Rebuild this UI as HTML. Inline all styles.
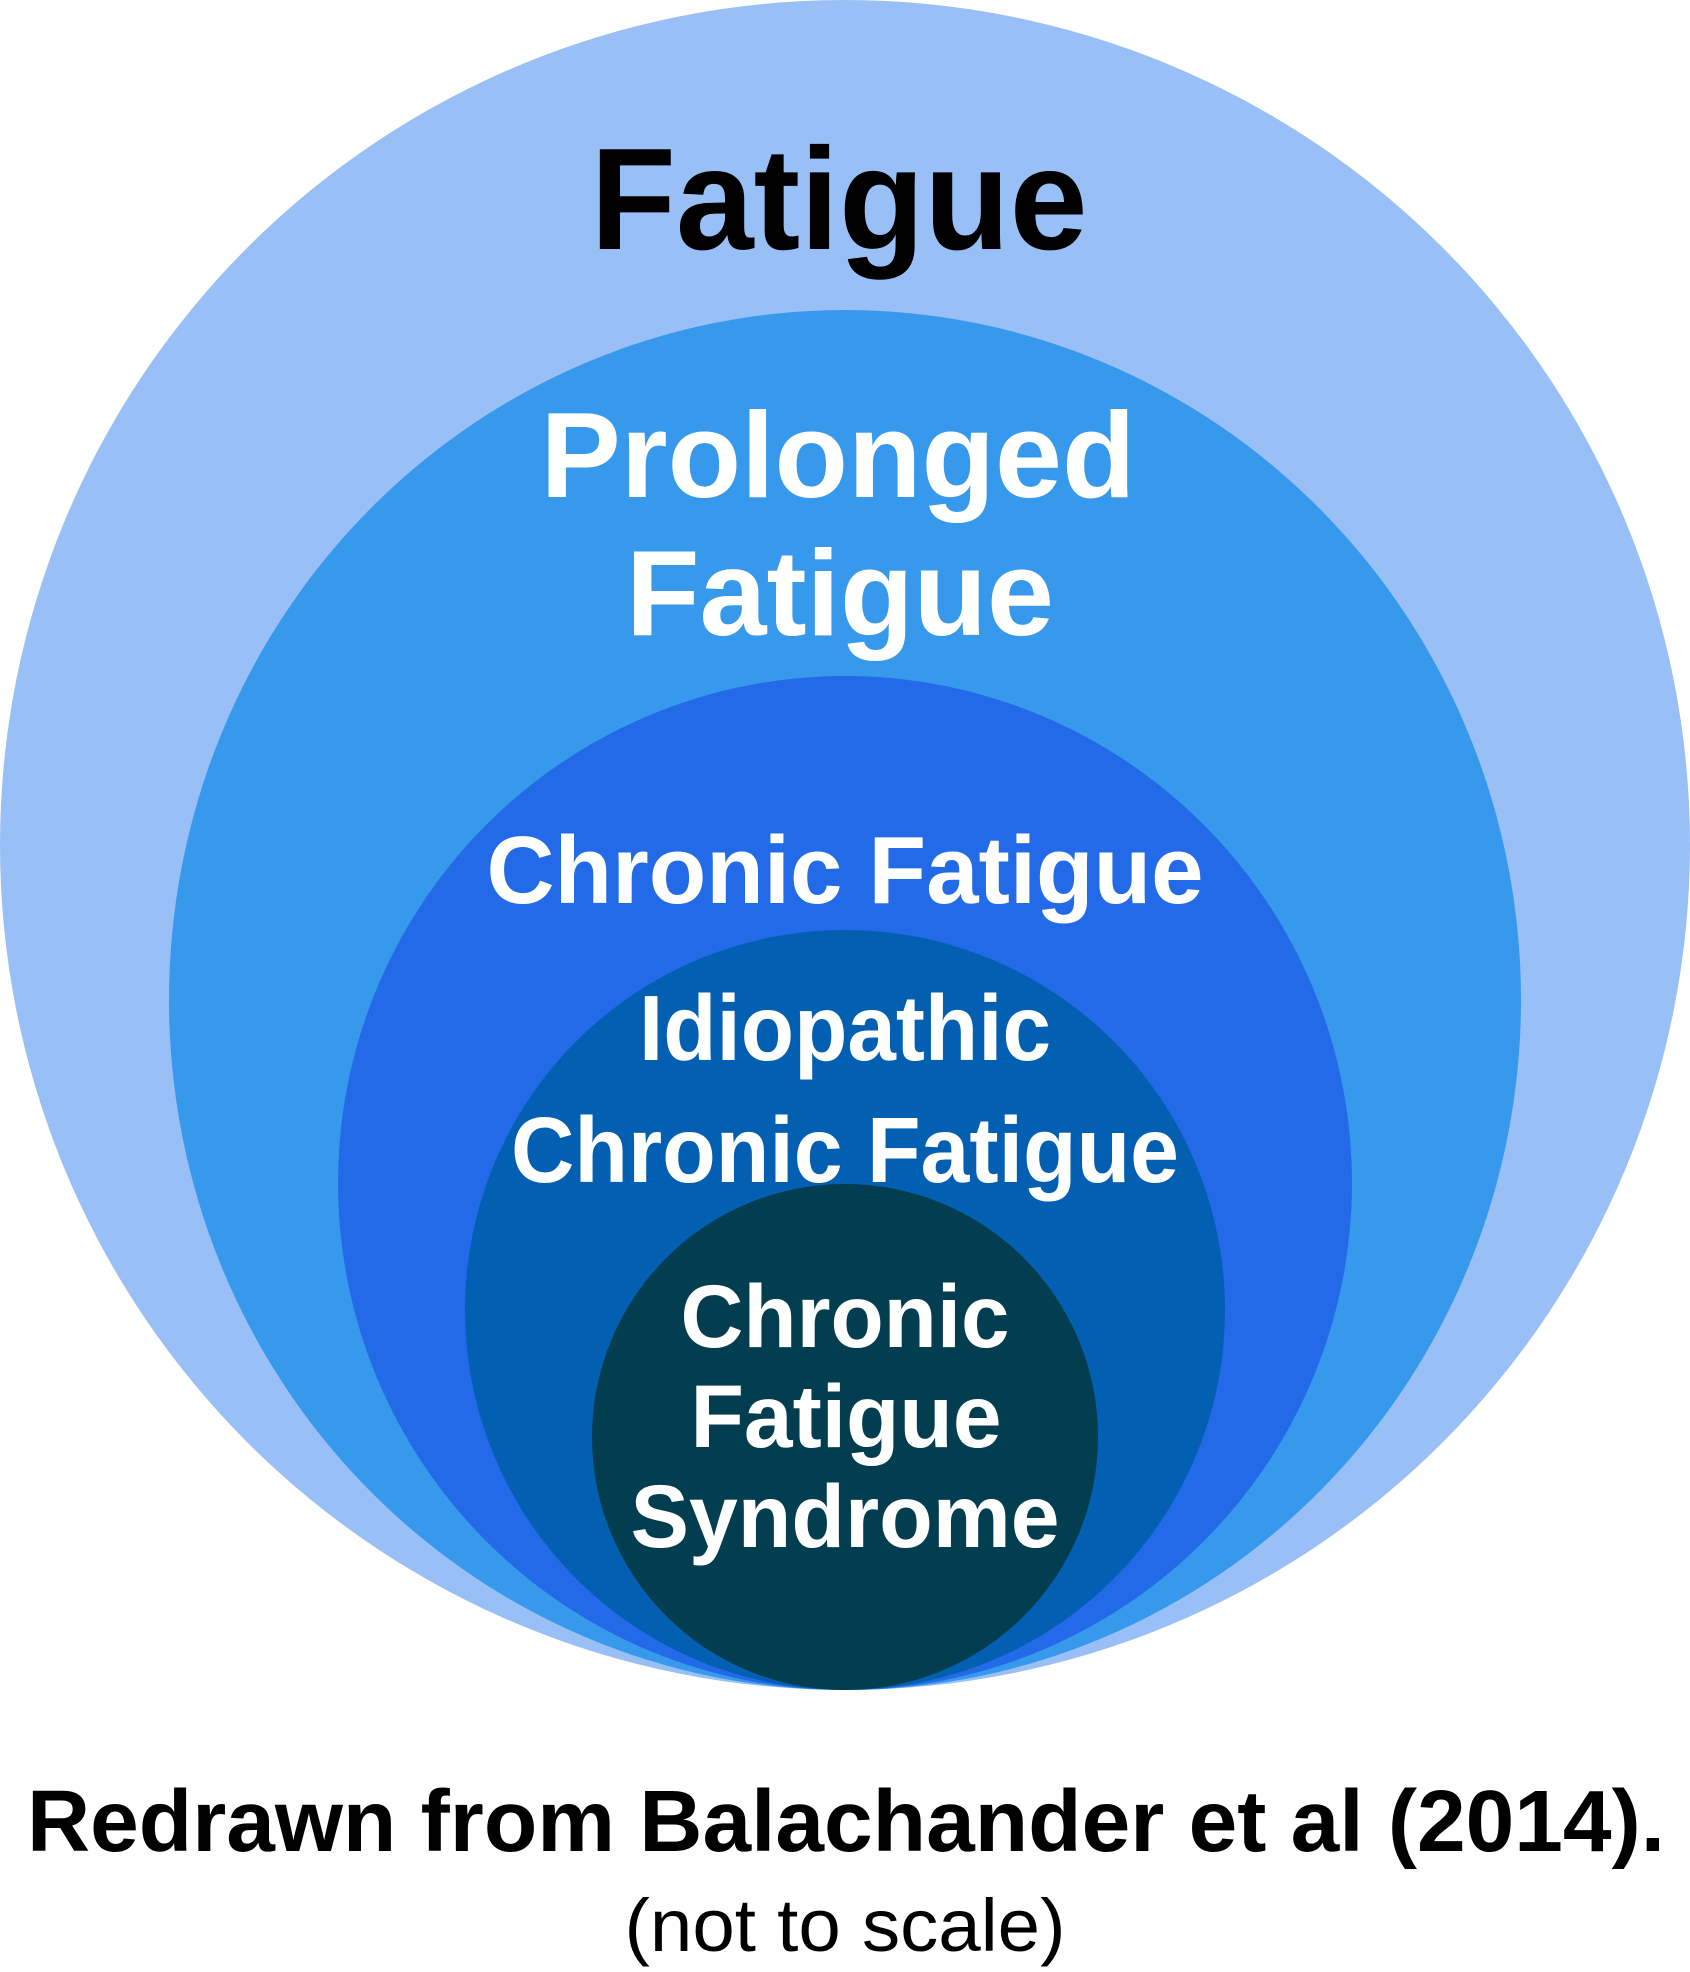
<!DOCTYPE html>
<html><head><meta charset="utf-8"><style>html,body{margin:0;padding:0;background:#fff}svg{display:block}</style></head>
<body>
<svg width="1690" height="1972" viewBox="0 0 1690 1972" xmlns="http://www.w3.org/2000/svg" font-family="Liberation Sans, Arial, sans-serif">
<circle cx="845" cy="845" r="845" fill="#99BFF7"/>
<ellipse cx="845" cy="1000" rx="676" ry="690" fill="#3799EC"/>
<circle cx="845" cy="1183" r="507" fill="#226AE8"/>
<circle cx="845" cy="1310" r="380" fill="#035FB2"/>
<circle cx="845" cy="1437" r="253" fill="#023D50"/>
<g font-weight="bold" text-anchor="middle">
<text x="839" y="249" font-size="145" fill="#000" textLength="497" lengthAdjust="spacingAndGlyphs">Fatigue</text>
<text x="838" y="497" font-size="122" fill="#fff" textLength="595" lengthAdjust="spacingAndGlyphs">Prolonged</text>
<text x="840" y="635" font-size="122" fill="#fff" textLength="428" lengthAdjust="spacingAndGlyphs">Fatigue</text>
<text x="845" y="903" font-size="96" fill="#fff" textLength="717" lengthAdjust="spacingAndGlyphs">Chronic Fatigue</text>
<text x="845" y="1060" font-size="93" fill="#fff" textLength="412" lengthAdjust="spacingAndGlyphs">Idiopathic</text>
<text x="845" y="1182" font-size="93" fill="#fff" textLength="668" lengthAdjust="spacingAndGlyphs">Chronic Fatigue</text>
<text x="845" y="1347" font-size="89" fill="#fff" textLength="329" lengthAdjust="spacingAndGlyphs">Chronic</text>
<text x="846" y="1447" font-size="89" fill="#fff" textLength="311" lengthAdjust="spacingAndGlyphs">Fatigue</text>
<text x="845" y="1547" font-size="89" fill="#fff" textLength="429" lengthAdjust="spacingAndGlyphs">Syndrome</text>
<text x="846" y="1851" font-size="87" fill="#000" textLength="1638" lengthAdjust="spacingAndGlyphs">Redrawn from Balachander et al (2014).</text>
</g>
<text x="845" y="1951" font-size="74" fill="#000" text-anchor="middle" textLength="441" lengthAdjust="spacingAndGlyphs">(not to scale)</text>
</svg>
</body></html>
